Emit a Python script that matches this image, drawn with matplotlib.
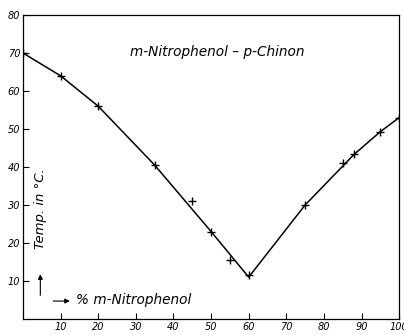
import matplotlib.pyplot as plt

# Messpunkte (% m-Nitrophenol, Temp. in °C)
pct = [0, 10, 20, 35, 45, 50, 55, 60, 75, 85, 88, 95, 100]
temp = [70, 64, 56, 40.5, 31, 23, 15.5, 11.5, 30, 41, 43.3, 49.3, 53]

# Kurve (Liquiduslinie)
curve_pct = [0, 10, 20, 35, 50, 60, 75, 88, 95, 100]
curve_temp = [70, 64, 56, 40.5, 23, 11, 30, 43.3, 49.3, 53]

x_ticks = [10, 20, 30, 40, 50, 60, 70, 80, 90, 100]
y_ticks = [10, 20, 30, 40, 50, 60, 70, 80]

fig = plt.figure(figsize=(4.04, 3.35), dpi=100)
ax = fig.add_axes([0.057, 0.048, 0.931, 0.907])

ax.plot(curve_pct, curve_temp, color='black', linewidth=1.1)
ax.plot(pct, temp, linestyle='none', marker='+', markersize=6,
        markeredgewidth=1.0, color='black')

ax.set_xlim(0, 100)
ax.set_ylim(0, 80)
ax.set_xticks(x_ticks)
ax.set_yticks(y_ticks)
ax.set_xticklabels([str(v) for v in x_ticks], fontsize=7, style='italic')
ax.set_yticklabels([str(v) for v in y_ticks], fontsize=7, style='italic')
ax.tick_params(direction='in', length=4, width=0.8, pad=2)
for s in ax.spines.values():
    s.set_linewidth(0.9)

ax.text(0.516, 0.88, 'm-Nitrophenol – p-Chinon', transform=ax.transAxes,
        ha='center', va='center', fontsize=9.8, style='italic')

ax.text(4.6, 29, 'Temp. in °C.', rotation=90, ha='center', va='center',
        fontsize=9.5, style='italic')
ax.annotate('', xy=(4.6, 12.5), xytext=(4.6, 5.5),
            arrowprops=dict(arrowstyle='-|>', lw=0.8, color='black',
                            mutation_scale=7))
ax.annotate('', xy=(13.2, 4.7), xytext=(7.3, 4.7),
            arrowprops=dict(arrowstyle='-|>', lw=0.8, color='black',
                            mutation_scale=7))
ax.text(14.2, 4.9, '% m-Nitrophenol', ha='left', va='center',
        fontsize=9.8, style='italic')

fig.savefig('out.png', dpi=100)
